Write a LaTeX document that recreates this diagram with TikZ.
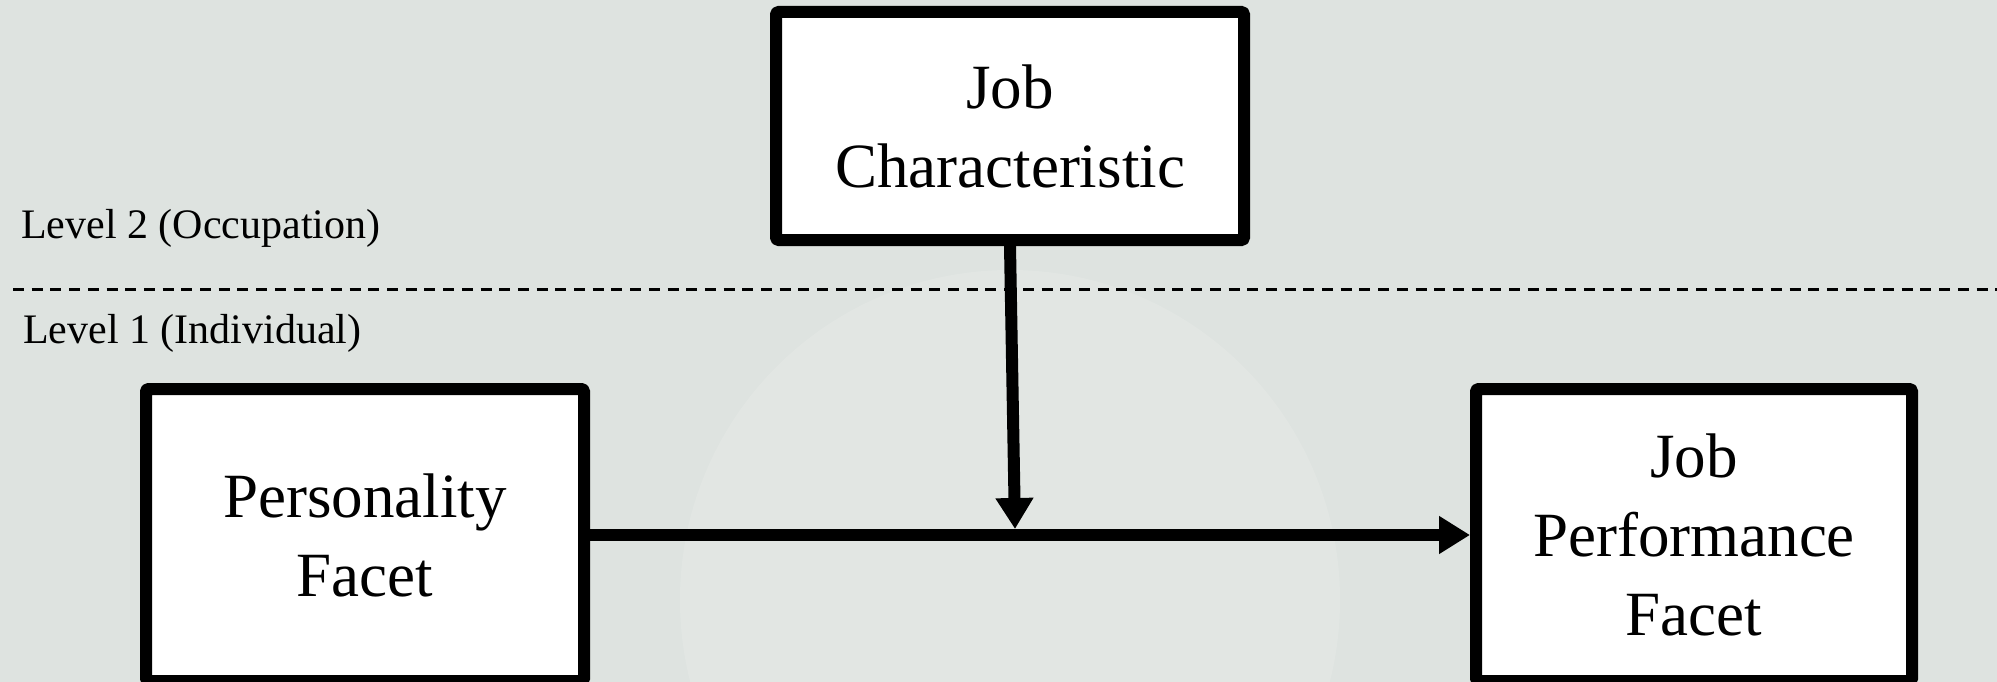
\documentclass[tikz,border=0pt]{standalone}
\usepackage{fontspec}
\setmainfont{Liberation Serif}
\usetikzlibrary{arrows.meta}
\definecolor{bgcol}{RGB}{222,227,224}
\definecolor{bglight}{RGB}{232,235,232}
\tikzset{
  varbox/.style={draw=black, fill=white, line width=12pt, line join=round, rounded corners=1.5pt,
    align=center, inner sep=0pt, font=\fontsize{63}{79}\selectfont},
  levellabel/.style={anchor=base west, inner sep=0pt, font=\fontsize{42}{50}\selectfont},
  link/.style={line width=12pt, -{Triangle[length=31pt,width=36pt]}},
  divider/.style={line width=3pt, dash pattern=on 11pt off 7.7pt}
}
\begin{document}
\begin{tikzpicture}[x=1pt,y=-1pt]
\useasboundingbox (0,0) rectangle (1997,682);
\fill[bgcol] (0,0) rectangle (1997,682);
\fill[bglight, opacity=0.45] (1010,600) circle (330);
% divider
\coordinate (dl) at (13,289);
\coordinate (dr) at (1997,289);
\draw[divider] (dl) -- (dr);
% labels
\node[levellabel] (l2) at (21,238) {Level 2 (Occupation)};
\node[levellabel] (l1) at (23,343) {Level 1 (Individual)};
% boxes
\node[varbox, minimum width=468pt, minimum height=228pt] (jc) at (1010,126) {Job\\Characteristic};
\node[varbox, minimum width=438pt, minimum height=292pt] (pf) at (365,535) {Personality\\Facet};
\node[varbox, minimum width=436pt, minimum height=292pt] (jp) at (1694,535) {Job\\Performance\\Facet};
% arrows
\coordinate (mid) at (1015,529);
\draw[link] (pf.east) -- (jp.west);
\draw[link] (jc.south) -- (mid);
\end{tikzpicture}
\end{document}
